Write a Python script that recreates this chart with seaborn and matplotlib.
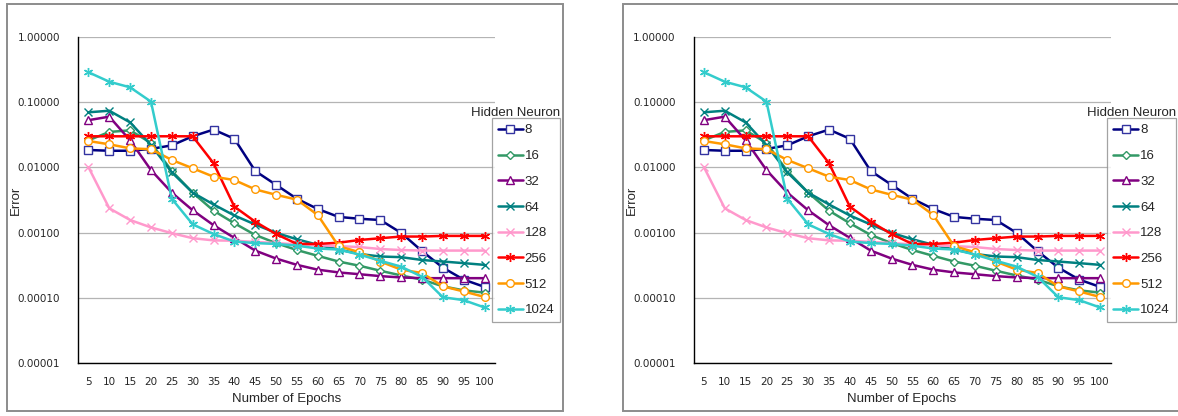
import numpy as np
import pandas as pd
import matplotlib.pyplot as plt
import seaborn as sns
from matplotlib.patches import Rectangle

epochs = [5, 10, 15, 20, 25, 30, 35, 40, 45, 50, 55, 60, 65, 70, 75, 80, 85, 90, 95, 100]
neurons = ["8", "16", "32", "64", "128", "256", "512", "1024"]

err_8 = [0.0185, 0.018, 0.018, 0.0192, 0.0218, 0.030, 0.038, 0.0275, 0.0088, 0.0054,
         0.0033, 0.0023, 0.00174, 0.00163, 0.00156, 0.00099, 0.00052, 0.00029, 0.00019, 0.000147]
err_16 = [0.026, 0.035, 0.037, 0.0237, 0.0088, 0.0041, 0.00217, 0.00139, 0.00092, 0.00069,
          0.00054, 0.00044, 0.00036, 0.00031, 0.00026, 0.00022, 0.00019, 0.00015, 0.00013, 0.00012]
err_32 = [0.053, 0.060, 0.026, 0.0091, 0.0041, 0.0022, 0.0013, 0.00083, 0.00053, 0.00040,
          0.00032, 0.00027, 0.000245, 0.00023, 0.000215, 0.000205, 0.0002, 0.0002, 0.0002, 0.0002]
err_64 = [0.070, 0.074, 0.049, 0.022, 0.0084, 0.0041, 0.0027, 0.00183, 0.00133, 0.00099,
          0.00079, 0.00065, 0.00055, 0.00047, 0.00043, 0.00042, 0.00038, 0.00036, 0.00034, 0.00032]
err_128 = [0.0101, 0.00236, 0.00156, 0.0012, 0.00098, 0.00082, 0.00076, 0.00075, 0.00072, 0.00069,
           0.00066, 0.00064, 0.00062, 0.0006, 0.00056, 0.00054, 0.00053, 0.00053, 0.00053, 0.00053]
err_256 = [0.030, 0.030, 0.030, 0.030, 0.030, 0.030, 0.0116, 0.0025, 0.00147, 0.00095,
           0.00067, 0.00067, 0.0007, 0.00077, 0.00082, 0.00087, 0.00087, 0.00089, 0.00089, 0.00089]
err_512 = [0.0254, 0.0226, 0.0196, 0.019, 0.013, 0.0097, 0.0072, 0.0064, 0.0046, 0.0038,
           0.0032, 0.00186, 0.00062, 0.0005, 0.00036, 0.00027, 0.00024, 0.00015, 0.000125, 0.000103]
err_1024 = [0.288, 0.206, 0.169, 0.102, 0.0033, 0.00134, 0.00095, 0.00073, 0.00069, 0.00067,
            0.00063, 0.00057, 0.00055, 0.00046, 0.00037, 0.0003, 0.00021, 0.000102, 0.000092, 0.000071]

all_err = [err_8, err_16, err_32, err_64, err_128, err_256, err_512, err_1024]

colors = ["#000080", "#339966", "#800080", "#008080", "#FF99CC", "#FF0000", "#FF9900", "#33CCCC"]
edge_colors = ["#3333A0", "#339966", "#800080", "#008080", "#FF99CC", "#FF0000", "#FF9900", "#33CCCC"]
markers = ["s", "D", "^", "x", "x", (6, 2, 0), "o", (6, 2, 0)]
msizes = [5.5, 4.5, 5.5, 6, 6, 6.5, 5.5, 6.5]

df = pd.DataFrame({
    "Epochs": epochs * len(neurons),
    "Error": sum(all_err, []),
    "Neuron": [n for n in neurons for _ in epochs],
})

sns.set_style("white")
plt.rcParams["font.family"] = ["Liberation Sans", "DejaVu Sans"]

W, H = 1178, 416
fig = plt.figure(figsize=(W / 100, H / 100), dpi=100)


def draw_panel(dx):
    # chart area border
    fig.patches.append(Rectangle(((7 + dx) / W, 1 - 411 / H), 556 / W, 407 / H,
                                 transform=fig.transFigure, fill=False,
                                 edgecolor="#8c8c8c", lw=1.4))
    ax = fig.add_axes([(78 + dx) / W, 1 - 363 / H, 417 / W, 326 / H])
    for i, n in enumerate(neurons):
        sub = df[df["Neuron"] == n]
        sns.lineplot(data=sub, x="Epochs", y="Error", ax=ax, color=colors[i], lw=1.8,
                     marker=markers[i], markersize=msizes[i], markerfacecolor="white",
                     markeredgecolor=edge_colors[i], markeredgewidth=1.0, label=n)
    ax.set_yscale("log")
    ax.set_ylim(1e-5, 1)
    ax.set_xlim(2.5, 102.5)
    ax.set_yticks([1e-5, 1e-4, 1e-3, 1e-2, 1e-1, 1])
    ax.set_yticklabels(["{:.5f}".format(v) for v in [1e-5, 1e-4, 1e-3, 1e-2, 1e-1, 1]],
                       fontsize=7.5, family="DejaVu Sans")
    ax.minorticks_off()
    ax.set_xticks(epochs)
    ax.set_xticklabels([str(e) for e in epochs], fontsize=7.5, family="DejaVu Sans")
    ax.tick_params(axis="both", length=0)
    ax.tick_params(axis="y", pad=13)
    ax.tick_params(axis="x", pad=10)
    ax.grid(axis="y", color="#b4b4b4", lw=0.9)
    ax.set_axisbelow(True)
    for s in ["top", "right"]:
        ax.spines[s].set_visible(False)
    for s in ["left", "bottom"]:
        ax.spines[s].set_color("black")
        ax.spines[s].set_linewidth(1.0)
    ax.set_xlabel("Number of Epochs", fontsize=9.5)
    ax.set_ylabel("Error", fontsize=9.5)
    ax.xaxis.set_label_coords(0.5, -0.093)
    ax.yaxis.set_label_coords(-0.134, 0.5)

    leg = ax.legend(loc="upper left", bbox_to_anchor=((491.7 + dx) / W, 1 - 118.3 / H),
                    bbox_transform=fig.transFigure, borderaxespad=0, fontsize=9.5,
                    frameon=True, fancybox=False, edgecolor="#8c8c8c", handlelength=1.9,
                    handletextpad=0.15, labelspacing=1.02, borderpad=0.45)
    leg.get_frame().set_linewidth(0.9)
    fig.text((515.7 + dx) / W, 1 - 112.7 / H, "Hidden Neuron", ha="center", va="center",
             fontsize=9.5)
    return ax


draw_panel(0)
draw_panel(615.5)

plt.savefig("out.png", dpi=100)
